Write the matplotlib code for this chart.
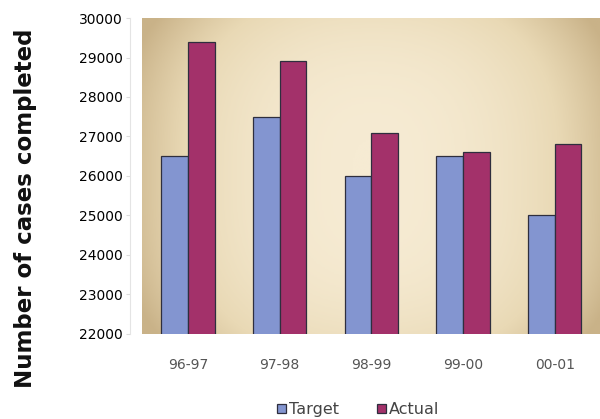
import numpy as np
import matplotlib.pyplot as plt
from matplotlib.colors import LinearSegmentedColormap

years = ['96-97', '97-98', '98-99', '99-00', '00-01']
target = [26500, 27500, 26000, 26500, 25000]
actual = [29400, 28900, 27100, 26600, 26800]
yticks = [22000, 23000, 24000, 25000, 26000, 27000, 28000, 29000, 30000]

plt.rcParams['font.family'] = ['DejaVu Sans']

fig = plt.figure(figsize=(6, 4.19), dpi=100)
ax = fig.add_axes([0.237, 0.203, 0.767, 0.754])

# beige backdrop, darker toward the sides
xs = np.linspace(-1, 1, 300)
ys = np.linspace(-1, 1, 200)
gx, gy = np.meshgrid(xs, ys)
shade = np.clip(0.8 * np.abs(gx) ** 2.2 + 0.3 * np.abs(gy) ** 3, 0, 1)
bg = LinearSegmentedColormap.from_list('bg', ['#f6ebd3', '#e9d9b5', '#c9b288'])
ax.imshow(shade, cmap=bg, extent=[-0.5, 4.52, 22000, 30000], aspect='auto',
          origin='lower', zorder=0, vmin=0, vmax=1)

x = np.arange(len(years))
w = 0.29
ax.bar(x - w / 2, target, w, color='#8395d0', edgecolor='#2e2e3e',
       linewidth=0.9, label='Target', zorder=2)
ax.bar(x + w / 2, actual, w, color='#a3316a', edgecolor='#2e2e3e',
       linewidth=0.9, label='Actual', zorder=2)

ax.set_xlim(-0.5, 4.52)
ax.set_ylim(22000, 30000)
ax.set_yticks(yticks)
ax.set_yticklabels([str(v) for v in yticks], fontsize=10, color='#555555')
ax.set_xticks(x)
ax.set_xticklabels(years, fontsize=10, color='#555555')
ax.tick_params(axis='x', length=0, pad=17)
ax.tick_params(axis='y', length=3, color='#dddddd', pad=2)
for s in ['top', 'right', 'bottom']:
    ax.spines[s].set_visible(False)
ax.spines['left'].set_color('#e4e4e4')
ax.spines['left'].set_position(('outward', 9))

fig.text(0.043, 0.503, 'Number of cases completed', rotation=90, ha='center',
         va='center', fontsize=16.5, fontweight='bold', color='#111111')

leg = fig.legend(loc='center', bbox_to_anchor=(0.597, 0.022), ncol=2,
                 frameon=False, fontsize=11.5, handlelength=0.55,
                 handleheight=0.55, handletextpad=0.2, columnspacing=2.4,
                 borderpad=0)
for t in leg.get_texts():
    t.set_color('#444444')

fig.savefig('out.png', dpi=100)
